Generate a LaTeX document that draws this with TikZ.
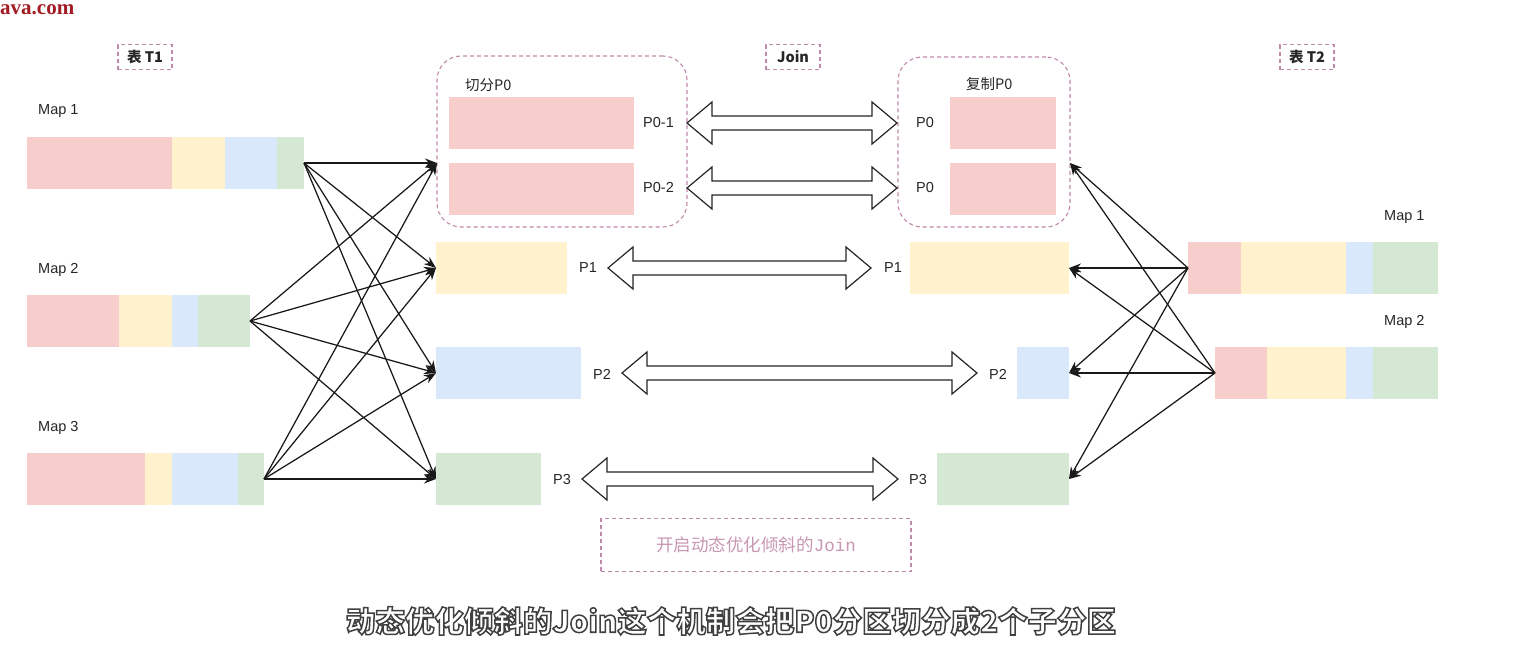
\documentclass[tikz,border=0pt]{standalone}
\usepackage{fontspec}
\setmainfont{Liberation Sans}
\newfontfamily\cjk{Noto Sans CJK SC}
\newfontfamily\wmfont{Liberation Serif}
\newfontfamily\monof{Liberation Mono}
\usetikzlibrary{arrows.meta}
\definecolor{cred}{HTML}{F8CECC}
\definecolor{cyel}{HTML}{FFF2CC}
\definecolor{cblu}{HTML}{DAE8FC}
\definecolor{cgrn}{HTML}{D5E8D4}
\definecolor{pinkd}{HTML}{C08AAA}
\definecolor{notetxt}{HTML}{C898B2}
\definecolor{txt}{HTML}{262626}
\definecolor{wmred}{HTML}{A31C24}
\newcommand\blkarrow[3]{%
  \draw[blk] (#1,#3) -- (#1+25,#3-21) -- (#1+25,#3-7) -- (#2-25,#3-7) -- (#2-25,#3-21)
    -- (#2,#3) -- (#2-25,#3+21) -- (#2-25,#3+7) -- (#1+25,#3+7) -- (#1+25,#3+21) -- cycle;}
\newcommand\outlinedtext[1]{\special{pdf:literal direct 2 Tr 1.5 w 0.25 0.25 0.25 RG}#1\special{pdf:literal direct 0 Tr}}
\begin{document}
\begin{tikzpicture}[x=1pt,y=-1pt,
  box/.style={inner sep=0pt, outer sep=0pt, anchor=north west, draw=none},
  dbox/.style={box, draw=pinkd, dash pattern=on 4pt off 3pt, line width=1.1pt, rounded corners=24pt},
  tag/.style={draw=pinkd, dash pattern=on 4pt off 3pt, line width=1.1pt, inner sep=0pt,
     minimum width=54pt, minimum height=25pt, font=\cjk\bfseries\fontsize{14.5}{16}\selectfont, text=txt},
  lbl/.style={inner sep=0pt, anchor=west, text=txt, font=\fontsize{14.5}{16}\selectfont},
  clbl/.style={inner sep=0pt, anchor=west, text=txt, font=\cjk\fontsize{14.5}{16}\selectfont},
  link/.style={draw=black!90, line width=1.25pt, -{Stealth[length=12pt,width=9pt]}},
  blk/.style={draw=black!85, line width=1.2pt, fill=white, line join=miter},
  subt/.style={inner sep=0pt, text=white, font=\cjk\bfseries\fontsize{29.5}{32}\selectfont}
]
\useasboundingbox (0,0) rectangle (1519,651);
\fill[white] (0,0) rectangle (1519,651);

% watermark
\node[inner sep=0pt, anchor=base west, text=wmred, font=\wmfont\bfseries\fontsize{21}{21}\selectfont] (wm) at (0,14) {ava.com};

% top tags
\node[tag] (t1) at (145,57) {表 T1};
\node[tag] (tj) at (793,57) {Join};
\node[tag] (t2) at (1307,57) {表 T2};

% ---- Table T1 maps
\node[lbl] (l1) at (38,111) {Map 1};
\node[lbl] (l2) at (38,270) {Map 2};
\node[lbl] (l3) at (38,428) {Map 3};
\fill[cred] (27,137) rectangle (172,189);
\fill[cyel] (172,137) rectangle (225,189);
\fill[cblu] (225,137) rectangle (277,189);
\fill[cgrn] (277,137) rectangle (304,189);
\node[box, minimum width=277pt, minimum height=52pt] (m1) at (27,137) {};
\fill[cred] (27,295) rectangle (119,347);
\fill[cyel] (119,295) rectangle (172,347);
\fill[cblu] (172,295) rectangle (198,347);
\fill[cgrn] (198,295) rectangle (250,347);
\node[box, minimum width=223pt, minimum height=52pt] (m2) at (27,295) {};
\fill[cred] (27,453) rectangle (145,505);
\fill[cyel] (145,453) rectangle (172,505);
\fill[cblu] (172,453) rectangle (238,505);
\fill[cgrn] (238,453) rectangle (264,505);
\node[box, minimum width=237pt, minimum height=52pt] (m3) at (27,453) {};

% ---- Table T2 maps
\node[lbl] (k1) at (1384,217) {Map 1};
\node[lbl] (k2) at (1384,322) {Map 2};
\fill[cred] (1188,242) rectangle (1241,294);
\fill[cyel] (1241,242) rectangle (1346,294);
\fill[cblu] (1346,242) rectangle (1373,294);
\fill[cgrn] (1373,242) rectangle (1438,294);
\node[box, minimum width=250pt, minimum height=52pt] (n1) at (1188,242) {};
\fill[cred] (1215,347) rectangle (1267,399);
\fill[cyel] (1267,347) rectangle (1346,399);
\fill[cblu] (1346,347) rectangle (1373,399);
\fill[cgrn] (1373,347) rectangle (1438,399);
\node[box, minimum width=223pt, minimum height=52pt] (n2) at (1215,347) {};

% ---- left partitions
\node[dbox, minimum width=250pt, minimum height=171pt] (cut) at (437,56) {};
\node[clbl] (cutl) at (465,85) {切分P0};
\node[box, fill=cred, minimum width=185pt, minimum height=52pt] (p01) at (449,97) {};
\node[box, fill=cred, minimum width=185pt, minimum height=52pt] (p02) at (449,163) {};
\node[lbl] (p01l) at (643,123) {P0-1};
\node[lbl] (p02l) at (643,188) {P0-2};
\node[box, fill=cyel, minimum width=131pt, minimum height=52pt] (p1) at (436,242) {};
\node[box, fill=cblu, minimum width=145pt, minimum height=52pt] (p2) at (436,347) {};
\node[box, fill=cgrn, minimum width=105pt, minimum height=52pt] (p3) at (436,453) {};
\node[lbl] (p1l) at (579,268) {P1};
\node[lbl] (p2l) at (593,374) {P2};
\node[lbl] (p3l) at (553,480) {P3};

% ---- right partitions
\node[dbox, minimum width=172pt, minimum height=170pt] (copy) at (898,57) {};
\node[clbl] (copyl) at (966,84) {复制P0};
\node[box, fill=cred, minimum width=106pt, minimum height=52pt] (r01) at (950,97) {};
\node[box, fill=cred, minimum width=106pt, minimum height=52pt] (r02) at (950,163) {};
\node[lbl] (r01l) at (916,123) {P0};
\node[lbl] (r02l) at (916,188) {P0};
\node[box, fill=cyel, minimum width=159pt, minimum height=52pt] (q1) at (910,242) {};
\node[box, fill=cblu, minimum width=52pt, minimum height=52pt] (q2) at (1017,347) {};
\node[box, fill=cgrn, minimum width=132pt, minimum height=52pt] (q3) at (937,453) {};
\node[lbl] (q1l) at (884,268) {P1};
\node[lbl] (q2l) at (989,374) {P2};
\node[lbl] (q3l) at (909,480) {P3};

% ---- block double arrows
\blkarrow{687}{897}{123}
\blkarrow{687}{897}{188}
\blkarrow{608}{871}{268}
\blkarrow{622}{977}{373}
\blkarrow{582}{898}{479}

% ---- shuffle connectors
\coordinate (cutin) at (cut.west |- m1.center);
\coordinate (copyin) at (copy.east |- m1.center);
\foreach \s in {m1,m2,m3}{
  \foreach \t in {cutin,p1.west,p2.west,p3.west}{
    \draw[link] (\s.east) -- (\t);
  }
}
\foreach \s in {n1,n2}{
  \foreach \t in {copyin,q1.east,q2.east,q3.east}{
    \draw[link] (\s.west) -- (\t);
  }
}

% ---- note
\node[draw=pinkd, dash pattern=on 4pt off 3pt, line width=1.1pt, minimum width=310pt, minimum height=53pt,
  inner sep=0pt, text=notetxt, font=\cjk\fontsize{17.5}{20}\selectfont] (note) at (756,545)
  {开启动态优化倾斜的{\monof Join}};

% ---- subtitle (outlined)
\node[subt] (sub) at (731,621) {\outlinedtext{动态优化倾斜的Join这个机制会把P0分区切分成2个子分区}};
\end{tikzpicture}
\end{document}
